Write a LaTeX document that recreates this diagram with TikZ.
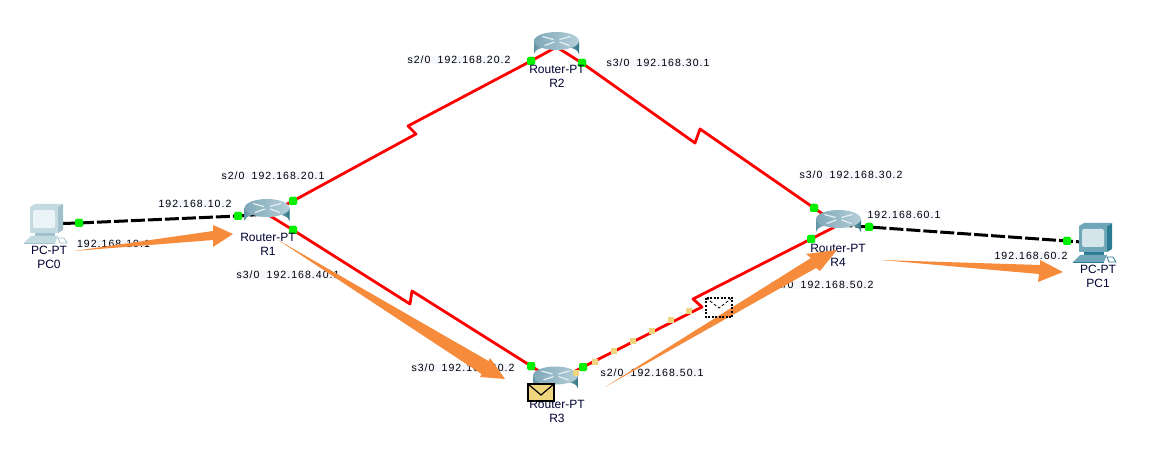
\documentclass[tikz,border=0pt]{standalone}
\usepackage{fontspec}
\setmainfont{Liberation Sans}
\newfontfamily\lblfont[LetterSpace=10,WordSpace=1.8]{Liberation Sans}
\definecolor{ifbg}{HTML}{F5F7FD}
\definecolor{linkred}{HTML}{FF0000}
\definecolor{portgreen}{HTML}{00F000}
\definecolor{arroworange}{HTML}{F68B3C}
\definecolor{packet}{HTML}{EFD67E}
\definecolor{rtopl}{HTML}{7FA8B8}
\definecolor{rtopr}{HTML}{B4CFD9}
\definecolor{rbodyl}{HTML}{5F93A6}
\definecolor{rbodym}{HTML}{DCECEF}
\definecolor{rbodyr}{HTML}{2C7185}
\definecolor{rmark}{HTML}{E6F0F3}
\definecolor{pcAside}{HTML}{9FC0CC}
\definecolor{pcAface}{HTML}{C3DAE1}
\definecolor{pcAscreen}{HTML}{EAF4F6}
\definecolor{pcBside}{HTML}{2B7C92}
\definecolor{pcBface}{HTML}{6FA6B8}
\definecolor{pcBscreen}{HTML}{D3E5EB}
\tikzset{
  x=1pt,y=-1pt,
  iflabel/.style={fill=ifbg,inner sep=0.5pt,font=\lblfont\fontsize{10.5}{12}\selectfont,text=black},
  devlabel/.style={inner sep=0pt,font=\fontsize{12}{14}\selectfont,text=black!80!blue},
  port/.style={fill=portgreen,inner sep=0pt,minimum width=8pt,minimum height=8pt,rounded corners=1.5pt},
  serial/.style={draw=linkred,line width=2.8pt,line join=round},
  ether/.style={draw=black,line width=3pt,dash pattern=on 14pt off 3pt},
  orangearrow/.style={fill=arroworange},
  anchorbox/.style={inner sep=0pt,minimum width=1pt,minimum height=1pt},
  dot/.style={fill=packet,inner sep=0pt,minimum width=5.5pt,minimum height=5.5pt},
}
\newcommand{\routerat}[1]{%
  \begin{scope}[shift={(#1)}]
    \shade[left color=rbodyl,right color=rbodyr,middle color=rbodym]
      (-22.5,-6) -- (-22.5,7) arc[start angle=180,end angle=360,x radius=22.5,y radius=8] -- (22.5,-6) -- cycle;
    \shade[left color=rtopl,right color=rtopr] (0,-6) ellipse [x radius=22.5,y radius=9];
    \draw[rmark,line width=1.2pt] (-14,-10.5) -- (-3,-7.5) (-12,-1.5) -- (-2,-5) (14,-10.5) -- (3,-7.5) (13,-1.5) -- (3,-5);
  \end{scope}}
\newcommand{\pcat}[4]{%
  \begin{scope}[shift={(#1)}]
    \fill[#2] (28,0) -- (33,-3) -- (33,23) -- (28,26) -- cycle;
    \fill[#3] (0,0) -- (5,-3) -- (33,-3) -- (28,0) -- cycle;
    \fill[#3] (0,0) rectangle (28,26);
    \fill[#4,rounded corners=2pt] (3,3) rectangle (25,21);
    \fill[#2] (5,26) rectangle (25,30);
    \fill[#3] (-6,36) -- (1,29) -- (28,29) -- (25,36) -- cycle;
    \fill[#2] (-6,36) rectangle (25,37);
    \draw[#2,line width=.8pt] (28,31) -- (34,31) -- (37,36) -- (30,36) -- cycle;
  \end{scope}}
\begin{document}
\begin{tikzpicture}
\useasboundingbox (0,0) rectangle (1168,465);
\fill[white] (0,0) rectangle (1168,465);
% device anchors
\node[anchorbox] (R1) at (267,214) {};
\node[anchorbox] (R2) at (556.500,47) {};
\node[anchorbox] (R3) at (555.500,381.500) {};
\node[anchorbox] (R4) at (838.500,225) {};
\node[anchorbox] (PC0) at (46,224) {};
\node[anchorbox] (PC1) at (1096,243) {};
% ports
\node[port] (p0) at (79,223) {};
\node[port] (p1a) at (238,216) {};
\node[port] (p1b) at (293,201) {};
\node[port] (p1c) at (293,230) {};
\node[port] (p2a) at (531,61) {};
\node[port] (p2b) at (582,63) {};
\node[port] (p3a) at (531,366) {};
\node[port] (p3b) at (583,367) {};
\node[port] (p4a) at (814,208) {};
\node[port] (p4b) at (811,239) {};
\node[port] (p4c) at (869,227) {};
\node[port] (p5) at (1067,241) {};
% links
\draw[serial] (R1.center) -- (p1b.center) -- (416,134) -- (408,126) -- (p2a.center) -- (R2.center);
\draw[serial] (R2.center) -- (p2b.center) -- (695,143) -- (700,129) -- (p4a.center) -- (R4.center);
\draw[serial] (R1.center) -- (p1c.center) -- (410,304) -- (412,291) -- (p3a.center) -- (R3.center);
\draw[serial] (R3.center) -- (p3b.center) -- (702,307) -- (693,299) -- (p4b.center) -- (R4.center);
\draw[ether] (PC0.center) -- (p0.center) -- (p1a.center) -- (R1.center);
\draw[ether] (R4.center) -- (p4c.center) -- (p5.center) -- (PC1.center);
% devices
\routerat{R1}
\routerat{R2}
\routerat{R3}
\routerat{R4}
\pcat{30,207}{pcAside}{pcAface}{pcAscreen}
\pcat{1079,226}{pcBside}{pcBface}{pcBscreen}
% port dots drawn above devices
\foreach \p in {p0,p1a,p1b,p1c,p2a,p2b,p3a,p3b,p4a,p4b,p4c,p5}{\node[port] at (\p) {};}
% packet trail
\foreach \a/\b in {576/373,595/362,614/351,633/341,652/331,671/320,689/311}{\node[dot] at (\a,\b) {};}
% device labels
\node[devlabel] (r1t) at (268,237) {Router-PT};
\node[devlabel] (r1n) at (268,251) {R1};
\node[devlabel] (r2t) at (557,69) {Router-PT};
\node[devlabel] (r2n) at (557,83) {R2};
\node[devlabel] (r3t) at (557,404) {Router-PT};
\node[devlabel] (r3n) at (557,418) {R3};
\node[devlabel] (r4t) at (838,248) {Router-PT};
\node[devlabel] (r4n) at (838,262) {R4};
\node[devlabel] (c0t) at (49,250) {PC-PT};
\node[devlabel] (c0n) at (49,264) {PC0};
\node[devlabel] (c1t) at (1098,269) {PC-PT};
\node[devlabel] (c1n) at (1098,283) {PC1};
% interface labels
\node[iflabel] (l1) at (195,204) {192.168.10.2};
\node[iflabel] (l2) at (113.500,244) {192.168.10.1};
\node[iflabel] (l3) at (273,176) {s2/0 192.168.20.1};
\node[iflabel] (l4) at (288,275) {s3/0 192.168.40.1};
\node[iflabel] (l5) at (459,60) {s2/0 192.168.20.2};
\node[iflabel] (l6) at (658,63) {s3/0 192.168.30.1};
\node[iflabel] (l7) at (851,175) {s3/0 192.168.30.2};
\node[iflabel] (l8) at (904,215) {192.168.60.1};
\node[iflabel] (l9) at (1031,256) {192.168.60.2};
\node[iflabel] (l10) at (822,285) {s2/0 192.168.50.2};
\node[iflabel] (l11) at (463,368) {s3/0 192.168.40.2};
\node[iflabel] (l12) at (652,373) {s2/0 192.168.50.1};
% orange overlay arrows
\fill[orangearrow] (74,251) -- (213,231) -- (213,225) -- (233,234) -- (213,247) -- (213,240) -- cycle;
\fill[orangearrow] (278,240) -- (488.500,361) -- (490,358) -- (505,379) -- (480,377) -- (481.500,374) -- cycle;
\fill[orangearrow] (605,387) -- (811,258) -- (806,254) -- (837,250) -- (820,271) -- (816,268) -- cycle;
\fill[orangearrow] (881,260) -- (1040,265) -- (1040,260) -- (1063,272) -- (1038,282) -- (1039,274) -- cycle;
% travelling envelope outline
\draw[black,line width=1.2pt,dash pattern=on 2pt off 1.5pt] (706,298) rectangle (732,317);
\draw[black,line width=.8pt,dash pattern=on 3pt off 2pt] (706,298) -- (719,308) -- (732,298);
% envelope on R3
\draw[black,fill=packet,line width=1.4pt] (528,384) rectangle (554,401);
\draw[black,line width=1.2pt] (528,384) -- (541,395) -- (554,384);
\end{tikzpicture}
\end{document}
